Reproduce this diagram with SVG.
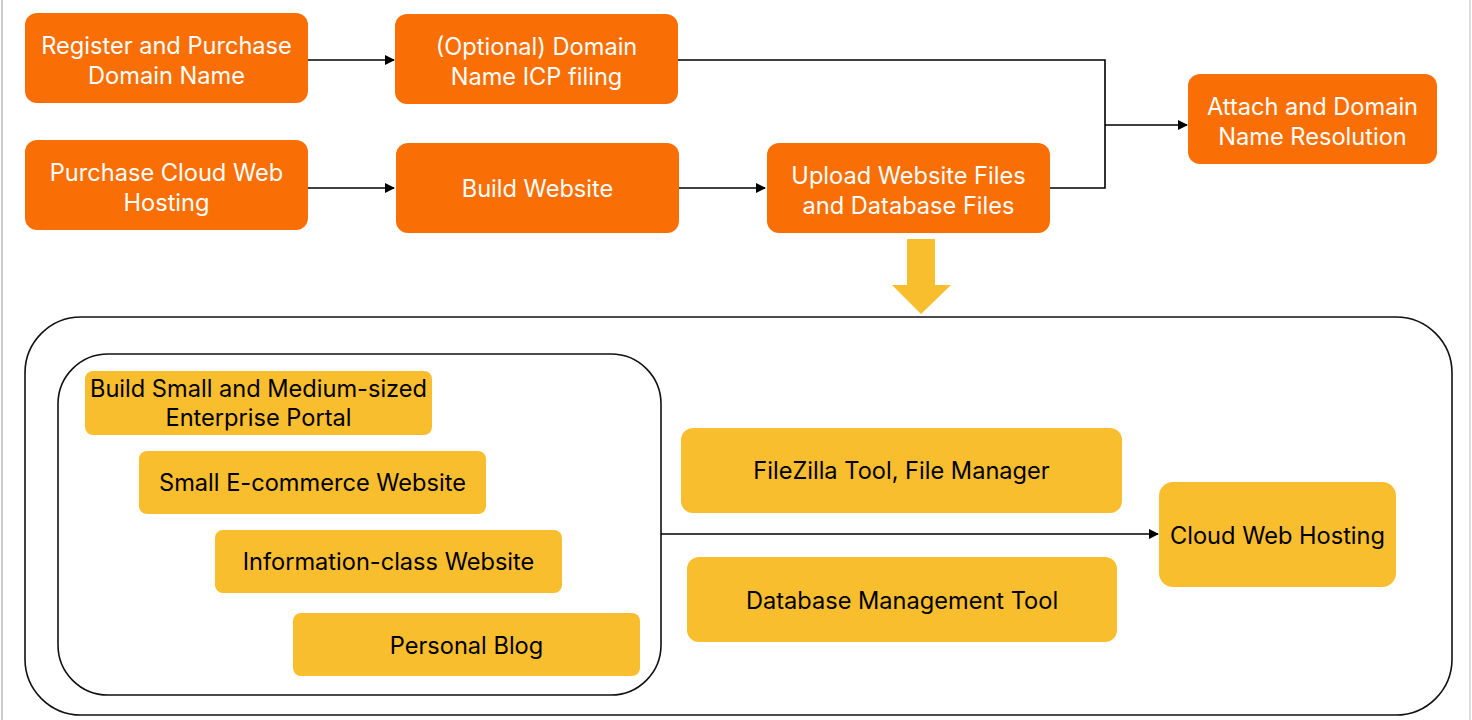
<svg xmlns="http://www.w3.org/2000/svg" width="1472" height="720" viewBox="0 0 1472 720">
<defs>
<style>
.o{fill:#F96F06}
.y{fill:#F9BE2D}
.tw{font-family:Inter,"Open Sans",sans-serif;font-size:23.6px;fill:#fff;text-anchor:middle}
.tb{font-family:Inter,"Open Sans",sans-serif;font-size:23.6px;fill:#000;text-anchor:middle}
.c{fill:none;stroke:#000;stroke-width:1.6}
.ct{fill:none;stroke:#111;stroke-width:1.6}
</style>
<marker id="ah" viewBox="0 0 10 10" refX="9" refY="5" markerWidth="10" markerHeight="10" markerUnits="userSpaceOnUse" orient="auto">
<path d="M0,0 L10,5 L0,10 z" fill="#000"/>
</marker>
</defs>
<rect width="1472" height="720" fill="#fff"/>
<line x1="2" y1="0" x2="2" y2="720" stroke="#ccc" stroke-width="2"/>
<line x1="1470" y1="0" x2="1470" y2="720" stroke="#ddd" stroke-width="2"/>

<g id="containers">
<rect class="ct" x="25" y="317" width="1427" height="398" rx="56"/>
<rect class="ct" x="58" y="354" width="603" height="341" rx="50"/>
</g>

<g id="connectors">
<line class="c" x1="308" y1="60" x2="394" y2="60" marker-end="url(#ah)"/>
<line class="c" x1="308" y1="188" x2="394" y2="188" marker-end="url(#ah)"/>
<line class="c" x1="679" y1="188" x2="765" y2="188" marker-end="url(#ah)"/>
<polyline class="c" points="678,60 1105,60 1105,188 1050,188"/>
<line class="c" x1="1105" y1="125" x2="1187" y2="125" marker-end="url(#ah)"/>
<line class="c" x1="661" y1="534" x2="1158" y2="534" marker-end="url(#ah)"/>
<path d="M907,239 L935,239 L935,285 L951,285 L921,314 L892,285 L907,285 z" fill="#F9BE2D"/>
</g>

<g id="n1"><rect class="o" x="25" y="13" width="283" height="90" rx="12"/>
<text class="tw" x="166.5" y="54">Register and Purchase</text><text class="tw" x="166.5" y="83.5">Domain Name</text></g>
<g id="n2"><rect class="o" x="395" y="14" width="283" height="90" rx="12"/>
<text class="tw" x="536.5" y="55">(Optional) Domain</text><text class="tw" x="536.5" y="85">Name ICP filing</text></g>
<g id="n3"><rect class="o" x="25" y="140" width="283" height="90" rx="12"/>
<text class="tw" x="166.5" y="181">Purchase Cloud Web</text><text class="tw" x="166.5" y="211">Hosting</text></g>
<g id="n4"><rect class="o" x="396" y="143" width="283" height="90" rx="12"/>
<text class="tw" x="537.5" y="197">Build Website</text></g>
<g id="n5"><rect class="o" x="767" y="143" width="283" height="90" rx="12"/>
<text class="tw" x="908.5" y="184">Upload Website Files</text><text class="tw" x="908.5" y="214">and Database Files</text></g>
<g id="n6"><rect class="o" x="1188" y="74" width="249" height="90" rx="12"/>
<text class="tw" x="1312.5" y="115">Attach and Domain</text><text class="tw" x="1312.5" y="145">Name Resolution</text></g>

<g id="n7"><rect class="y" x="85" y="371" width="347" height="64" rx="8"/>
<text class="tb" x="258.5" y="397">Build Small and Medium-sized</text><text class="tb" x="258.5" y="426">Enterprise Portal</text></g>
<g id="n8"><rect class="y" x="139" y="451" width="347" height="63" rx="8"/>
<text class="tb" x="312.5" y="491">Small E-commerce Website</text></g>
<g id="n9"><rect class="y" x="215" y="530" width="347" height="63" rx="8"/>
<text class="tb" x="388.5" y="570">Information-class Website</text></g>
<g id="n10"><rect class="y" x="293" y="613" width="347" height="63" rx="8"/>
<text class="tb" x="466.5" y="654">Personal Blog</text></g>
<g id="n11"><rect class="y" x="681" y="428" width="441" height="85" rx="12"/>
<text class="tb" x="901.5" y="479">FileZilla Tool, File Manager</text></g>
<g id="n12"><rect class="y" x="687" y="557" width="430" height="85" rx="12"/>
<text class="tb" x="902" y="609">Database Management Tool</text></g>
<g id="n13"><rect class="y" x="1159" y="482" width="237" height="105" rx="14"/>
<text class="tb" x="1277.5" y="544">Cloud Web Hosting</text></g>
</svg>
